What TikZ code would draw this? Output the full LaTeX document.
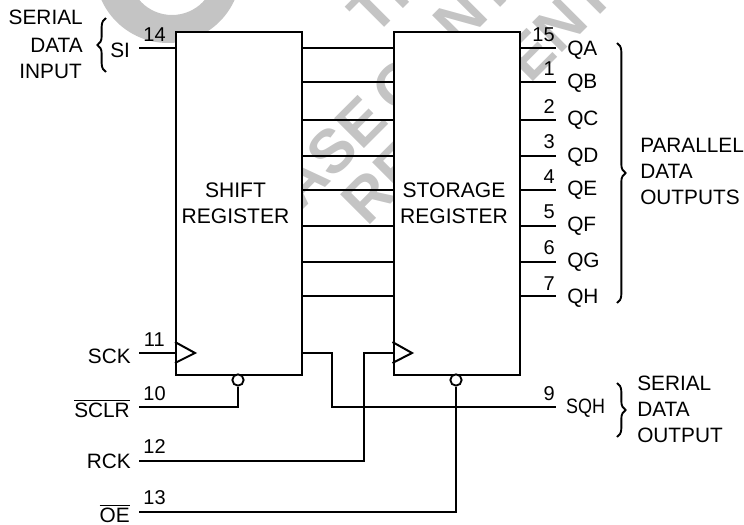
\documentclass[tikz,border=0pt]{standalone}
\usepackage{fontspec}
\setmainfont{Liberation Sans}
\usetikzlibrary{decorations.pathreplacing}
\definecolor{wm}{HTML}{C4C4C4}
\tikzset{
  x=0.75pt,y=-0.75pt,
  wire/.style={line width=1.5pt,line join=miter},
  reg/.style={draw,line width=1.6pt,fill=white,minimum width=94.5pt,minimum height=257pt,inner sep=0pt,anchor=north west},
  regtext/.style={inner sep=0pt,align=center,font=\fontsize{15.8}{19.5}\selectfont},
  lab/.style={inner sep=0pt,anchor=base east,font=\fontsize{15.6}{15.6}\selectfont},
  labl/.style={inner sep=0pt,anchor=base west,font=\fontsize{15.6}{15.6}\selectfont},
  pin/.style={inner sep=0pt,anchor=base east,font=\fontsize{15}{15}\selectfont},
  wmark/.style={inner sep=0pt,rotate=45,text=wm,font=\fontsize{46}{46}\selectfont\bfseries},
  bub/.style={circle,draw,line width=1.4pt,fill=white,minimum size=8.5pt,inner sep=0pt},
  brc/.style={line width=1.4pt,decorate,decoration={brace,amplitude=6.5pt,aspect=0.5}},
}
\begin{document}
\begin{tikzpicture}
\useasboundingbox (0,0) rectangle (744,525);
% watermark
\begin{scope}
\clip (0,0) rectangle (744,525);
\fill[wm,even odd rule] (168,-30) circle[radius=54.75pt] (172,-28) circle[radius=32.25pt];
\node[wmark] (wmA) at (331,152) {ASE};
\node[wmark] (wmO) at (399,85) {O};
\node[wmark] (wmN) at (473,5) {NT};
\node[wmark] (wmR) at (383,182) {RE};
\node[wmark] (wmE) at (559,26) {ENT};
\node[wmark] (wmT) at (388,-6) {TH};
\end{scope}
% registers
\node[reg] (sr) at (175,31) {};
\node[reg] (st) at (392.5,31) {};
\node[regtext] (srt) at (235.5,203) {SHIFT\\REGISTER};
\node[regtext] (stt) at (454,203) {STORAGE\\REGISTER};
% links between the registers
\foreach \i/\y in {1/48,2/82,3/120,4/156,5/190,6/226,7/262,8/296}{
  \coordinate (a\i) at (sr.east |- 0,\y);
  \coordinate (b\i) at (st.west |- 0,\y);
  \draw[wire] (a\i) -- (b\i);
}
% parallel outputs
\foreach \i/\n/\q/\ny/\qy in {1/15/QA/41/55,2/1/QB/75/88,3/2/QC/113/125,4/3/QD/148/162,5/4/QE/183/195,6/5/QF/218/231,7/6/QG/254/267,8/7/QH/290/303}{
  \coordinate (c\i) at (st.east |- a\i);
  \coordinate (d\i) at (556,0 |- a\i);
  \draw[wire] (c\i) -- (d\i);
  \node[pin] (n\i) at (555,\ny) {\n};
  \node[labl] (q\i) at (567,\qy) {\q};
}
% clock triangles
\coordinate (ck1a) at (175,342); \coordinate (ck1b) at (195,353); \coordinate (ck1c) at (175,363);
\draw[wire] (ck1a) -- (ck1b) -- (ck1c);
\coordinate (ck2a) at (392.5,342); \coordinate (ck2b) at (412,353); \coordinate (ck2c) at (392.5,363);
\draw[wire] (ck2a) -- (ck2b) -- (ck2c);
% bubbles
\node[bub] (bu1) at (238,380) {};
\node[bub] (bu2) at (456,380) {};
% left pins
\coordinate (si) at (139,48);
\coordinate (sck) at (139,353);
\coordinate (sclr) at (139,407);
\coordinate (rck) at (139,461);
\coordinate (oe) at (139,512);
\coordinate (sqh) at (556,407);
\coordinate (srck) at (sr.west |- sck);
\coordinate (stck) at (st.west |- sck);
\coordinate (srq) at (sr.east |- sck);
\draw[wire] (si) -- (sr.west |- si);
\draw[wire] (sck) -- (srck);
\draw[wire] (sclr) -| (bu1.south);
\draw[wire] (rck) -- (364,461) -- (364,353) -- (stck);
\draw[wire] (oe) -| (bu2.south);
\draw[wire] (srq) -- (332,353) -- (332,407) -- (sqh);
% left labels
\node[lab] (l1) at (83,24) {SERIAL};
\node[lab] (l2) at (83,52) {DATA};
\node[lab] (l3) at (82,78) {INPUT};
\node[labl] (lsi) at (110,57) {SI};
\node[pin] (p14) at (166,41) {14};
\node[pin] (p11) at (165,346) {11};
\node[pin] (p10) at (166,400) {10};
\node[pin] (p12) at (166,453) {12};
\node[pin] (p13) at (166,504) {13};
\node[lab] (lsck) at (131,363) {SCK};
\node[lab] (lsclr) at (130,417) {$\overline{\hbox{SCLR}}$};
\node[lab] (lrck) at (131,468) {RCK};
\node[lab] (loe) at (130,522) {$\overline{\hbox{OE}}$};
\node[pin] (p9) at (555,400) {9};
\node[labl,xscale=0.86] (lsqh) at (566,413) {SQH};
% right labels
\node[labl] (r1) at (640,152) {PARALLEL};
\node[labl] (r2) at (640,178) {DATA};
\node[labl] (r3) at (640,204) {OUTPUTS};
\node[labl] (r4) at (637,390) {SERIAL};
\node[labl] (r5) at (637,416) {DATA};
\node[labl] (r6) at (637,442) {OUTPUT};
% braces
\coordinate (bt1) at (106,18); \coordinate (bb1) at (106,72);
\coordinate (bt2) at (617,43); \coordinate (bb2) at (617,303);
\coordinate (bt3) at (617,383); \coordinate (bb3) at (617,437);
\draw[brc] (bb1) -- (bt1);
\draw[brc] (bt2) -- (bb2);
\draw[brc] (bt3) -- (bb3);
\end{tikzpicture}
\end{document}
